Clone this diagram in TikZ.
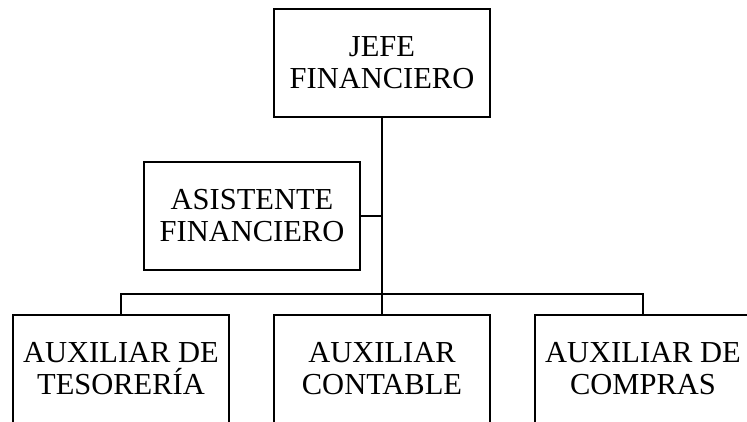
\documentclass[tikz,border=0pt]{standalone}
\usepackage{fontspec}
\setmainfont{Liberation Serif}
\usepackage{tikz}
\tikzset{
  puesto/.style={draw,line width=2.8pt,minimum width=216pt,minimum height=108pt,
    inner sep=0pt,align=center,font=\fontsize{30.5}{32}\selectfont},
  linea/.style={line width=2.8pt}
}

\begin{document}
\begin{tikzpicture}[x=1pt,y=-1pt]
        \useasboundingbox (0,0) rectangle (747,421);
        \path
        (382,63) node[puesto] (jefe) {JEFE\\FINANCIERO}
        (252,216) node[puesto] (asis) {ASISTENTE\\FINANCIERO}
        ;

        \path
        (121,369) node[puesto] (aux1) {AUXILIAR DE\\TESORERÍA}
        (382,369) node[puesto] (aux2) {AUXILIAR\\CONTABLE}
        (643,369) node[puesto] (aux3) {AUXILIAR DE\\COMPRAS}
        ;
        \coordinate (bus) at (382,294);

        \draw[linea] (jefe.south) -- (aux2.north);
        \draw[linea] (asis.east) -- (asis.east -| jefe.south);
        \draw[linea] (aux1.north) |- (bus) -| (aux3.north);
      \end{tikzpicture}
\end{document}
